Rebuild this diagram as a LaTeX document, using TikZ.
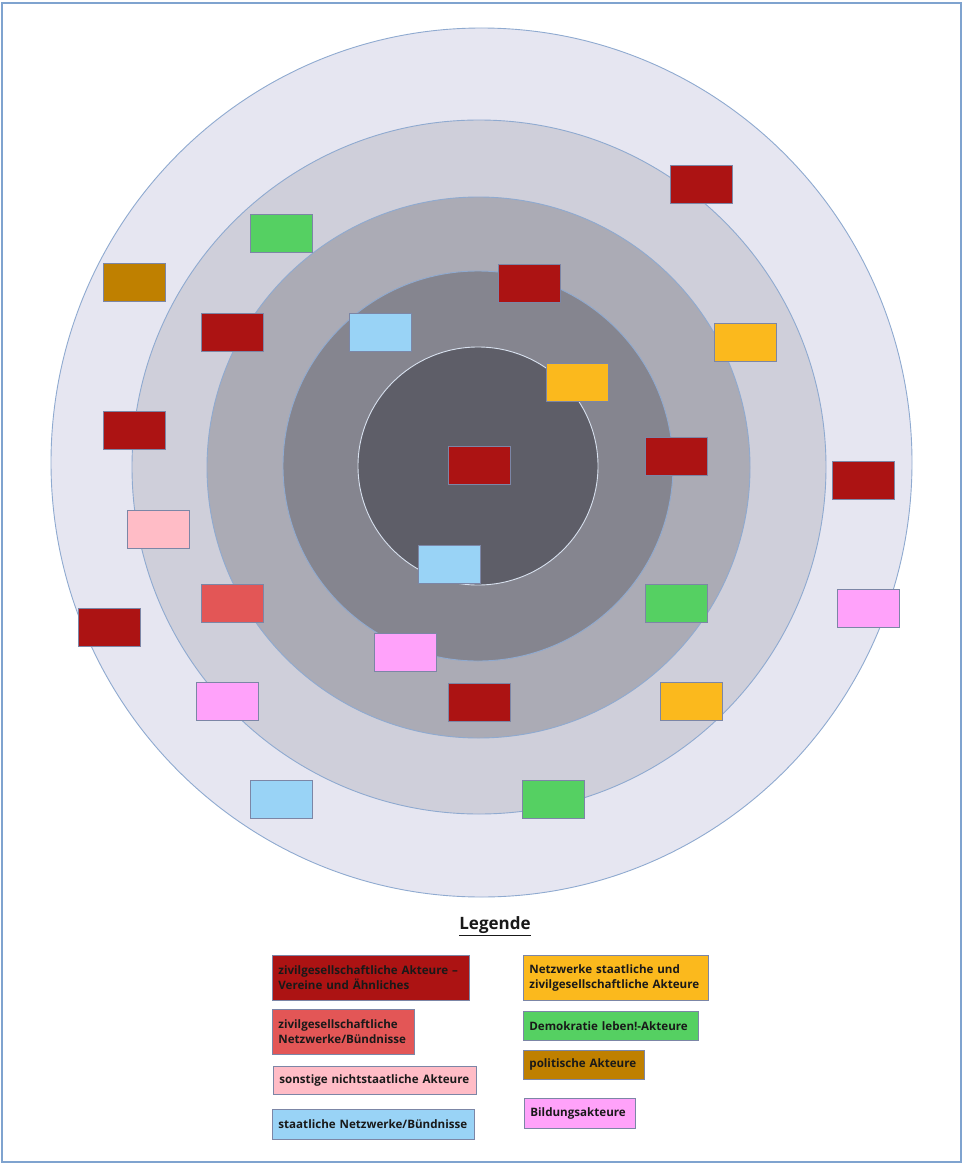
\documentclass[tikz,border=0pt]{standalone}
\usepackage{fontspec}
\setmainfont{Open Sans}
\definecolor{frame}{HTML}{7FA3CF}
\definecolor{ringline}{HTML}{8FAAD0}
\definecolor{rA}{HTML}{E6E6F1}
\definecolor{rB}{HTML}{CFCFDA}
\definecolor{rC}{HTML}{ABABB5}
\definecolor{rD}{HTML}{85858F}
\definecolor{rE}{HTML}{5E5E68}
\definecolor{boxline}{HTML}{7C86A6}
\definecolor{cdark}{HTML}{AC1313}
\definecolor{cred}{HTML}{E35656}
\definecolor{cpink}{HTML}{FFBCC6}
\definecolor{cblue}{HTML}{99D3F6}
\definecolor{corange}{HTML}{FBB91D}
\definecolor{cgreen}{HTML}{55D062}
\definecolor{cbrown}{HTML}{BF8000}
\definecolor{cmag}{HTML}{FFA2FA}
\tikzset{
  ring/.style={draw=ringline, line width=0.9pt},
  actor/.style={draw=boxline, line width=0.8pt, fill=#1, minimum width=62pt, minimum height=38pt, inner sep=0pt, anchor=north west},
  lg/.style={draw=boxline, line width=0.8pt, fill=#1, inner xsep=6pt, inner ysep=0pt, align=left, anchor=north west, font=\bfseries\fontsize{11.6}{15}\selectfont, text=black!90},
}
\begin{document}
\begin{tikzpicture}[x=1pt,y=-1pt]
\useasboundingbox (0,0) rectangle (963,1164);
\fill[white] (0,0) rectangle (963,1164);
\draw[frame, line width=1.5pt] (2,3) rectangle (961,1162);
% rings
\filldraw[ring, fill=rA] (481.5,462.5) ellipse (430.5 and 434.5);
\filldraw[ring, fill=rB] (479,467) ellipse (347 and 347);
\filldraw[ring, fill=rC] (478.5,467.5) ellipse (271.5 and 270.5);
\filldraw[ring, fill=rD] (478,466) ellipse (195 and 195);
\filldraw[ring, fill=rE, draw=ringline!35!white] (478,466) ellipse (120 and 119);
% actors
\node[actor=cdark]   (b1)  at (670,165) {};
\node[actor=cgreen]  (b2)  at (250,214) {};
\node[actor=cbrown]  (b3)  at (103,263) {};
\node[actor=cdark]   (b4)  at (498,264) {};
\node[actor=cdark]   (b5)  at (201,313) {};
\node[actor=cblue]   (b6)  at (349,313) {};
\node[actor=corange] (b7)  at (714,323) {};
\node[actor=corange] (b8)  at (546,363) {};
\node[actor=cdark]   (b9)  at (103,411) {};
\node[actor=cdark]   (b10) at (645,437) {};
\node[actor=cdark]   (b11) at (448,446) {};
\node[actor=cdark]   (b12) at (832,461) {};
\node[actor=cpink]   (b13) at (127,510) {};
\node[actor=cblue]   (b14) at (418,545) {};
\node[actor=cred]    (b15) at (201,584) {};
\node[actor=cgreen]  (b16) at (645,584) {};
\node[actor=cmag]    (b17) at (837,589) {};
\node[actor=cdark]   (b18) at (78,608) {};
\node[actor=cmag]    (b19) at (374,633) {};
\node[actor=cmag]    (b20) at (196,682) {};
\node[actor=cdark]   (b21) at (448,683) {};
\node[actor=corange] (b22) at (660,682) {};
\node[actor=cblue]   (b23) at (250,780) {};
\node[actor=cgreen]  (b24) at (522,780) {};
% legend
\node[font=\bfseries\fontsize{17}{20}\selectfont, text=black!90] (title) at (495,926) {\underline{Legende}};
\node[lg=cdark, text width=185pt, minimum height=45pt] (l1) at (272,955) {zivilgesellschaftliche Akteure –\\Vereine und Ähnliches};
\node[lg=cred, text width=130pt, minimum height=45pt] (l2) at (272,1009) {zivilgesellschaftliche\\Netzwerke/Bündnisse};
\node[lg=cpink, text width=191pt, minimum height=28pt] (l3) at (273,1066) {sonstige nichtstaatliche Akteure};
\node[lg=cblue, text width=190pt, minimum height=30pt] (l4) at (272,1109) {staatliche Netzwerke/Bündnisse};
\node[lg=corange, text width=173pt, minimum height=45pt] (r1) at (523,955) {Netzwerke staatliche und\\zivilgesellschaftliche Akteure};
\node[lg=cgreen, text width=163pt, minimum height=29pt] (r2) at (523,1011) {Demokratie leben!-Akteure};
\node[lg=cbrown, text width=109pt, minimum height=29pt] (r3) at (523,1050) {politische Akteure};
\node[lg=cmag, text width=99pt, minimum height=30pt] (r4) at (524,1098) {Bildungsakteure};
\end{tikzpicture}
\end{document}
